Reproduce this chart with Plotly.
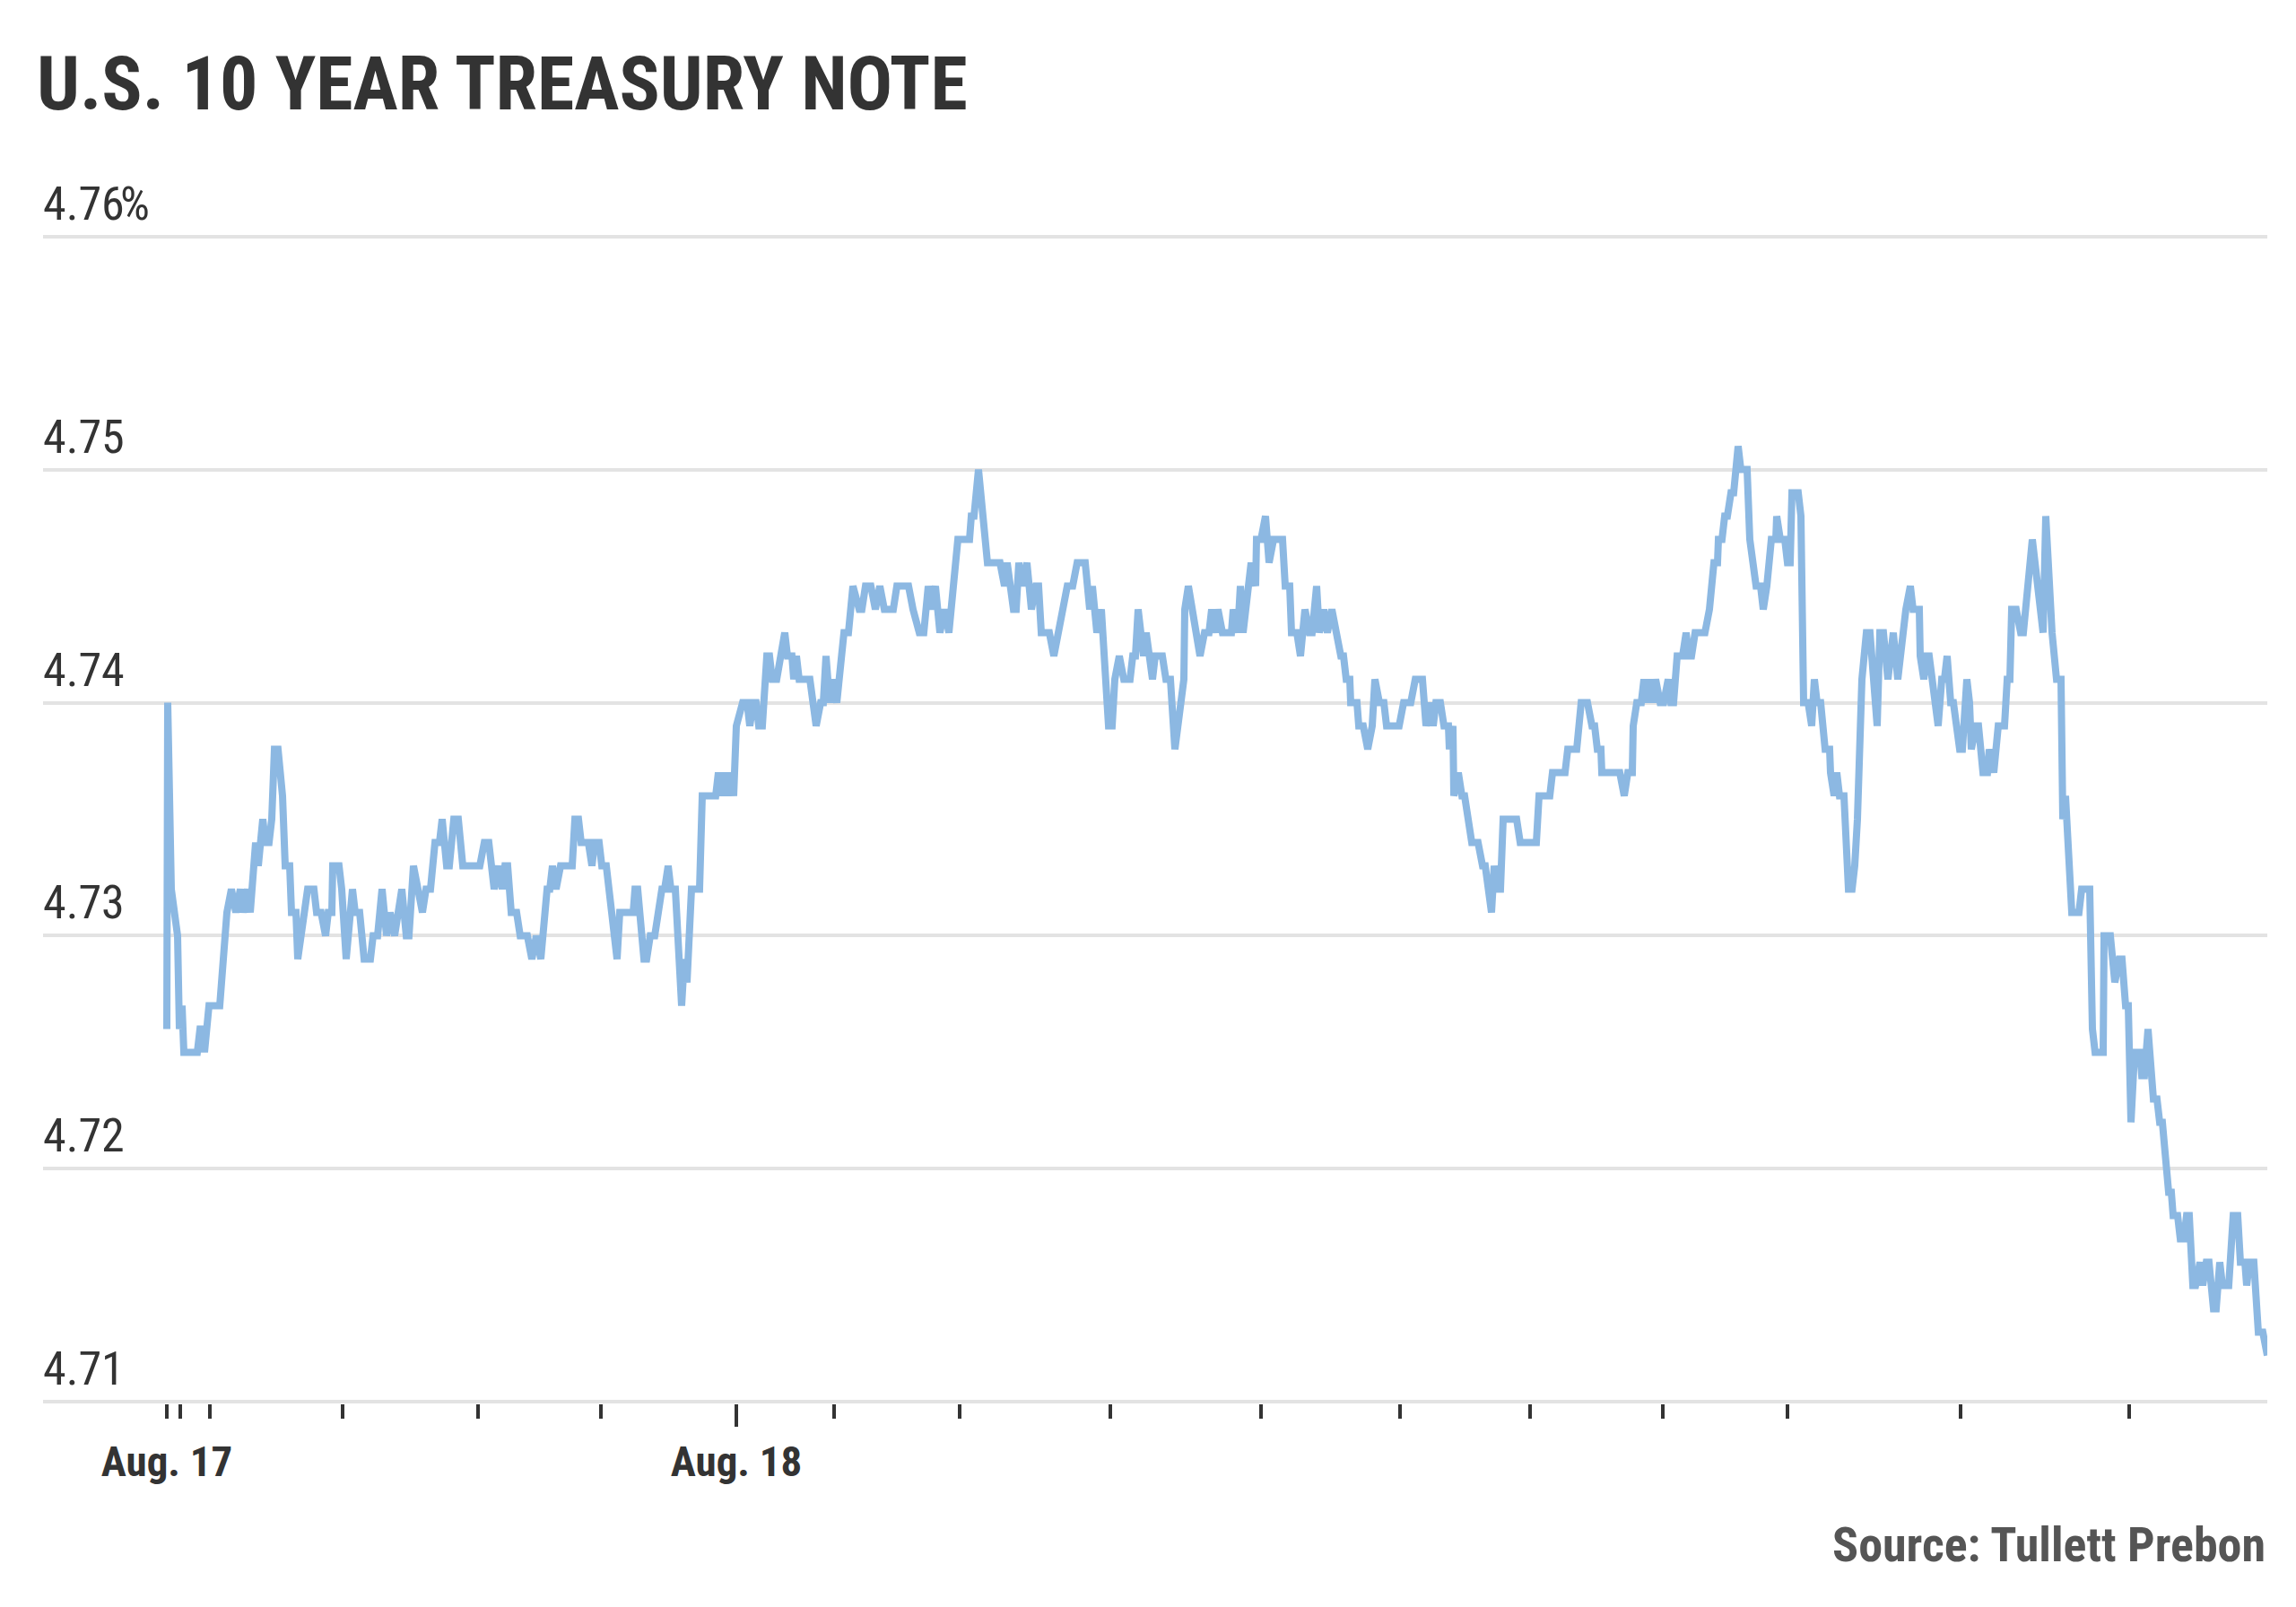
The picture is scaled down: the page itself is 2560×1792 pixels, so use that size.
import plotly.graph_objects as go

# ---- data: intraday 10-year Treasury yield (percent) ----
# t = position along the session timeline (chart units), yields in percent
t = [0, 1, 5, 12, 14, 17, 19, 34, 37, 40, 42, 47, 59, 64, 67, 72, 77, 82, 85, 90, 93, 95, 99, 102, 107, 110,
     114, 117, 120, 124, 129, 132, 137, 139, 144, 146, 154, 157, 164, 167, 172, 175, 177, 180, 184, 185, 192,
     195, 200, 207, 210, 215, 220, 227, 230, 235, 240, 245, 249, 254, 257, 262, 267, 270, 275, 280, 285, 289,
     294, 299, 304, 307, 312, 315, 320, 325, 330, 349, 354, 359, 362, 365, 370, 374, 377, 380, 384, 390, 394,
     402, 407, 412, 417, 424, 427, 430, 434, 439, 452, 455, 459, 462, 470, 474, 477, 482, 485, 490, 502, 505,
     520, 522, 525, 529, 532, 535, 539, 544, 547, 552, 555, 559, 562, 567, 574, 577, 580, 585, 594, 597, 612,
     615, 619, 622, 625, 629, 632, 635, 642, 647, 650, 654, 657, 660, 664, 669, 672, 675, 680, 684, 689, 692,
     697, 699, 702, 705, 717, 724, 729, 732, 735, 739, 742, 747, 755, 760, 765, 772, 775, 779, 785, 790, 795,
     800, 810, 814, 827, 832, 839, 844, 849, 852, 857, 862, 867, 872, 882, 895, 897, 900, 905, 910, 915, 929,
     934, 937, 944, 947, 950, 954, 959, 964, 969, 972, 975, 984, 989, 994, 999, 1004, 1010, 1015, 1024, 1029,
     1032, 1037, 1042, 1050, 1054, 1057, 1062, 1067, 1074, 1077, 1080, 1083, 1089, 1092, 1099, 1102, 1110,
     1114, 1119, 1124, 1134, 1135, 1139, 1144, 1152, 1157, 1162, 1165, 1169, 1172, 1177, 1187, 1189, 1194,
     1197, 1200, 1205, 1209, 1214, 1215, 1220, 1225, 1229, 1234, 1244, 1247, 1252, 1254, 1260, 1264, 1269,
     1274, 1277, 1282, 1285, 1290, 1294, 1299, 1304, 1309, 1312, 1315, 1319, 1320, 1327, 1329, 1334, 1339,
     1344, 1347, 1352, 1357, 1360, 1374, 1379, 1387, 1392, 1400, 1404, 1409, 1412, 1415, 1420, 1424, 1429,
     1430, 1434, 1435, 1440, 1444, 1447, 1455, 1462, 1467, 1470, 1477, 1480, 1484, 1487, 1490, 1505, 1509,
     1527, 1530, 1542, 1545, 1559, 1562, 1572, 1577, 1584, 1589, 1592, 1595, 1599, 1600, 1620, 1625, 1629,
     1634, 1635, 1639, 1644, 1647, 1650, 1654, 1657, 1660, 1665, 1669, 1674, 1677, 1680, 1684, 1690, 1694,
     1697, 1700, 1704, 1715, 1720, 1725, 1729, 1730, 1734, 1737, 1740, 1744, 1747, 1752, 1755, 1762, 1765,
     1769, 1772, 1777, 1780, 1784, 1789, 1794, 1795, 1799, 1804, 1807, 1810, 1812, 1819, 1822, 1825, 1830,
     1834, 1837, 1840, 1844, 1849, 1854, 1855, 1859, 1862, 1865, 1870, 1875, 1879, 1882, 1885, 1890, 1895,
     1899, 1907, 1910, 1914, 1919, 1922, 1925, 1930, 1935, 1939, 1944, 1947, 1954, 1955, 1959, 1962, 1965,
     1975, 1979, 1982, 1985, 1989, 1992, 1999, 2002, 2007, 2010, 2012, 2017, 2020, 2025, 2030, 2032, 2035,
     2037, 2042, 2049, 2052, 2055, 2057, 2062, 2067, 2070, 2075, 2080, 2092, 2095, 2102, 2107, 2112, 2114,
     2117, 2124, 2132, 2135, 2144, 2147, 2150, 2159, 2160, 2167, 2172, 2177, 2180, 2184, 2187, 2190, 2194,
     2200, 2202, 2205, 2209, 2214, 2215, 2219, 2222, 2225, 2229, 2232, 2235, 2237, 2242, 2245, 2249, 2252,
     2255, 2259, 2262, 2267, 2270, 2274, 2277, 2282, 2285, 2289, 2292, 2299, 2304, 2309, 2312, 2317, 2319,
     2322, 2327, 2332, 2337, 2342]

yield_pct = [4.726, 4.740, 4.732, 4.730, 4.726, 4.727, 4.725, 4.725, 4.726, 4.726, 4.725, 4.727, 4.727, 4.729,
     4.731, 4.732, 4.731, 4.732, 4.731, 4.732, 4.731, 4.732, 4.734, 4.733, 4.735, 4.734, 4.734, 4.735, 4.738,
     4.738, 4.736, 4.733, 4.733, 4.731, 4.731, 4.729, 4.731, 4.732, 4.732, 4.731, 4.731, 4.730, 4.730, 4.731,
     4.731, 4.733, 4.733, 4.732, 4.729, 4.732, 4.731, 4.731, 4.729, 4.729, 4.730, 4.730, 4.732, 4.730, 4.731,
     4.730, 4.731, 4.732, 4.730, 4.730, 4.733, 4.732, 4.731, 4.732, 4.732, 4.734, 4.734, 4.735, 4.733, 4.733,
     4.735, 4.735, 4.733, 4.733, 4.734, 4.734, 4.733, 4.732, 4.733, 4.732, 4.733, 4.733, 4.731, 4.731, 4.730,
     4.730, 4.729, 4.730, 4.729, 4.732, 4.732, 4.733, 4.732, 4.733, 4.733, 4.735, 4.735, 4.734, 4.734, 4.733,
     4.734, 4.734, 4.733, 4.733, 4.729, 4.731, 4.731, 4.732, 4.732, 4.730, 4.729, 4.729, 4.730, 4.730, 4.731,
     4.732, 4.732, 4.733, 4.732, 4.732, 4.727, 4.729, 4.728, 4.732, 4.732, 4.736, 4.736, 4.737, 4.736, 4.737,
     4.736, 4.737, 4.736, 4.739, 4.740, 4.740, 4.739, 4.740, 4.740, 4.739, 4.739, 4.742, 4.742, 4.741, 4.741,
     4.742, 4.743, 4.742, 4.742, 4.741, 4.742, 4.741, 4.741, 4.739, 4.740, 4.740, 4.742, 4.740, 4.741, 4.740,
     4.743, 4.743, 4.745, 4.744, 4.744, 4.745, 4.745, 4.744, 4.745, 4.744, 4.744, 4.745, 4.745, 4.744, 4.743,
     4.743, 4.745, 4.744, 4.745, 4.743, 4.744, 4.743, 4.747, 4.747, 4.748, 4.748, 4.750, 4.748, 4.746, 4.746,
     4.745, 4.746, 4.744, 4.744, 4.746, 4.745, 4.746, 4.744, 4.745, 4.745, 4.743, 4.743, 4.742, 4.743, 4.744,
     4.745, 4.745, 4.746, 4.746, 4.744, 4.745, 4.743, 4.744, 4.739, 4.739, 4.741, 4.742, 4.741, 4.741, 4.742,
     4.742, 4.744, 4.742, 4.743, 4.741, 4.742, 4.742, 4.741, 4.741, 4.738, 4.741, 4.744, 4.745, 4.744, 4.742,
     4.743, 4.743, 4.744, 4.743, 4.744, 4.743, 4.743, 4.744, 4.743, 4.745, 4.743, 4.745, 4.746, 4.745, 4.747,
     4.747, 4.748, 4.746, 4.747, 4.747, 4.745, 4.745, 4.743, 4.743, 4.742, 4.744, 4.743, 4.743, 4.745, 4.743,
     4.744, 4.743, 4.744, 4.743, 4.742, 4.742, 4.741, 4.741, 4.740, 4.740, 4.739, 4.739, 4.738, 4.739, 4.741,
     4.740, 4.740, 4.739, 4.739, 4.740, 4.740, 4.741, 4.741, 4.739, 4.740, 4.739, 4.740, 4.740, 4.739, 4.739,
     4.738, 4.739, 4.736, 4.737, 4.736, 4.736, 4.734, 4.734, 4.733, 4.733, 4.731, 4.733, 4.732, 4.732, 4.735,
     4.735, 4.734, 4.734, 4.736, 4.736, 4.737, 4.737, 4.738, 4.738, 4.740, 4.740, 4.739, 4.739, 4.738, 4.738,
     4.737, 4.737, 4.736, 4.737, 4.737, 4.739, 4.740, 4.740, 4.741, 4.740, 4.741, 4.740, 4.741, 4.740, 4.740,
     4.741, 4.740, 4.740, 4.742, 4.742, 4.743, 4.742, 4.742, 4.743, 4.743, 4.744, 4.746, 4.746, 4.747, 4.747,
     4.748, 4.748, 4.749, 4.749, 4.751, 4.750, 4.750, 4.747, 4.746, 4.745, 4.745, 4.744, 4.745, 4.747, 4.747,
     4.748, 4.747, 4.747, 4.746, 4.746, 4.749, 4.749, 4.748, 4.740, 4.740, 4.739, 4.741, 4.740, 4.740, 4.738,
     4.738, 4.737, 4.736, 4.737, 4.736, 4.736, 4.732, 4.732, 4.733, 4.735, 4.741, 4.743, 4.743, 4.739, 4.743,
     4.743, 4.741, 4.742, 4.743, 4.741, 4.743, 4.744, 4.745, 4.744, 4.744, 4.742, 4.741, 4.742, 4.742, 4.739,
     4.741, 4.741, 4.742, 4.740, 4.740, 4.738, 4.738, 4.741, 4.740, 4.738, 4.739, 4.739, 4.737, 4.737, 4.738,
     4.737, 4.737, 4.739, 4.739, 4.741, 4.741, 4.744, 4.744, 4.743, 4.743, 4.745, 4.747, 4.743, 4.748, 4.743,
     4.741, 4.741, 4.735, 4.736, 4.731, 4.731, 4.732, 4.732, 4.726, 4.725, 4.725, 4.730, 4.730, 4.728, 4.729,
     4.729, 4.727, 4.727, 4.722, 4.725, 4.725, 4.724, 4.724, 4.726, 4.724, 4.723, 4.723, 4.722, 4.722, 4.720,
     4.719, 4.719, 4.718, 4.718, 4.717, 4.717, 4.718, 4.718, 4.715, 4.715, 4.716, 4.715, 4.716, 4.716, 4.714,
     4.714, 4.716, 4.715, 4.715, 4.718, 4.718, 4.716, 4.716, 4.715, 4.716, 4.716, 4.713, 4.713, 4.712]

# hourly tick marks along the timeline, and the day-boundary labels
hour_ticks = [0, 15, 48, 196, 347, 484, 635, 744, 884, 1052, 1220, 1375, 1520, 1668, 1807, 2000, 2188]
day_ticks = [0, 635]
day_labels = ["Aug. 17", "Aug. 18"]
midnight_ticks = [635]

y_ticks = [4.71, 4.72, 4.73, 4.74, 4.75, 4.76]
y_labels = ["4.71", "4.72", "4.73", "4.74", "4.75", "4.76"]

title_text = "U.S. 10 YEAR TREASURY NOTE"
source_text = "Source: Tullett Prebon"

FONT = "Roboto Condensed, Liberation Sans Narrow, DejaVu Sans Condensed, Arial Narrow, sans-serif"
DARK = "#333333"

fig = go.Figure()
fig.add_trace(go.Scatter(
    x=t, y=yield_pct, mode="lines",
    line=dict(color="#8cb8e2", width=8),
    hoverinfo="skip", showlegend=False,
))
# invisible helper trace so the overlay axis (long midnight tick) is drawn
fig.add_trace(go.Scatter(
    x=midnight_ticks, y=[y_ticks[0]], xaxis="x2", mode="markers",
    marker=dict(opacity=0), hoverinfo="skip", showlegend=False,
))

tick_text = [day_labels[day_ticks.index(v)] if v in day_ticks else "" for v in hour_ticks]

x_range = [-138, t[-1]]
pad = 0.00006
y_range = [y_ticks[0] - pad, y_ticks[-1] + pad]

fig.update_layout(
    width=2560, height=1792,
    margin=dict(l=40, r=40, t=254, b=235),
    paper_bgcolor="white", plot_bgcolor="white",
    showlegend=False,
    font=dict(family=FONT, color=DARK),
    xaxis=dict(
        range=x_range, showgrid=False, zeroline=False, showline=False,
        tickmode="array", tickvals=hour_ticks, ticktext=tick_text,
        ticks="outside", ticklen=16, tickwidth=3.5, tickcolor=DARK,
        tickfont=dict(family=FONT, size=47, color=DARK, weight="bold"),
        ticklabelstandoff=8,
    ),
    xaxis2=dict(
        range=x_range, overlaying="x", anchor="y", side="bottom",
        showgrid=False, zeroline=False, showline=False,
        tickmode="array", tickvals=midnight_ticks, showticklabels=False,
        ticks="outside", ticklen=25, tickwidth=3.5, tickcolor=DARK,
    ),
    yaxis=dict(
        range=y_range, tickmode="array", tickvals=y_ticks,
        showticklabels=False, showgrid=True, gridcolor="#e3e3e3", gridwidth=4,
        zeroline=False, showline=False, ticks="",
    ),
)

annotations = []
for v, lab in zip(y_ticks, y_labels):
    annotations.append(dict(
        x=-45, xref="x", y=v, yref="y", text=lab, showarrow=False,
        xanchor="right", yanchor="bottom", yshift=4,
        font=dict(family=FONT, size=52, color=DARK),
    ))
annotations.append(dict(
    x=-45, xref="x", y=y_ticks[-1], yref="y", text="%", showarrow=False,
    xanchor="left", yanchor="bottom", yshift=4, xshift=-9,
    font=dict(family=FONT, size=52, color=DARK),
))
annotations.append(dict(
    x=0, xref="paper", y=1, yref="paper", text="<b>" + title_text + "</b>",
    showarrow=False, xanchor="left", yanchor="bottom", xshift=-9, yshift=117,
    font=dict(family=FONT, size=84, color=DARK),
))
annotations.append(dict(
    x=1, xref="paper", y=0, yref="paper", text="<b>" + source_text + "</b>",
    showarrow=False, xanchor="right", yanchor="top", yshift=-124,
    font=dict(family=FONT, size=54, color="#555555"),
))
fig.update_layout(annotations=annotations)

fig.write_html("out.html")
